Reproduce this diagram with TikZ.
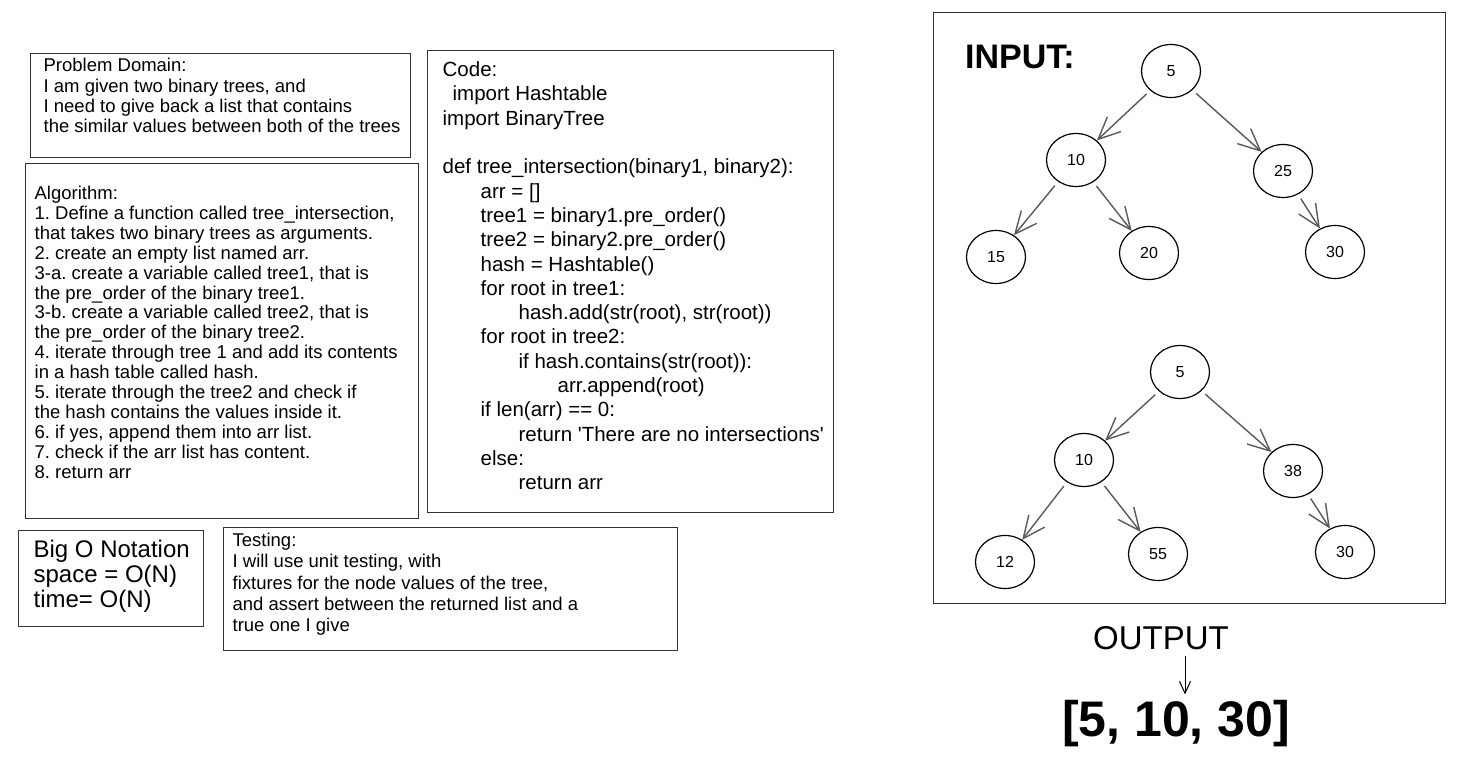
\documentclass[tikz,border=0pt]{standalone}
\usepackage{fontspec}
\setmainfont{Liberation Sans}
\usetikzlibrary{positioning,arrows.meta,shapes.geometric}
\frenchspacing

% text block of fixed size, lines top-left, no wrapping
\newcommand{\notetext}[3]{\parbox[c][#2][t]{#1}{\begin{tabular}[t]{@{}l@{}}#3\end{tabular}}}

\begin{document}
\begin{tikzpicture}[x=1pt, y=-1pt,
  note/.style={draw=black!80, line width=1.3pt, anchor=north west},
  tnode/.style={ellipse, draw, line width=1.2pt, minimum width=59pt, minimum height=53pt, inner sep=0pt, font=\fontsize{16}{16}\selectfont},
  arr/.style={-{Straight Barb[length=22pt, width=20pt]}, line width=1.4pt, draw=black!65, shorten <=5pt}]
\useasboundingbox (0,0) rectangle (1461,759);

% left side: notes
\node[note, inner xsep=13pt, inner ysep=4pt, font=\fontsize{18.5}{20.3}\selectfont] (dom) at (30,53)
  {\notetext{354pt}{96pt}{Problem Domain:\\ I am given two binary trees, and\\ I need to give back a list that contains\\ the similar values between both of the trees}};
\node[note, inner xsep=9pt, inner ysep=22pt, font=\fontsize{18.5}{19.9}\selectfont] (alg) at (25,163)
  {\notetext{375pt}{311pt}{Algorithm:\\
  1. Define a function called tree\_intersection,\\
  that takes two binary trees as arguments.\\
  2. create an empty list named arr.\\
  3-a. create a variable called tree1, that is\\
  the pre\_order of the binary tree1.\\
  3-b. create a variable called tree2, that is\\
  the pre\_order of the binary tree2.\\
  4. iterate through tree 1 and add its contents\\
  in a hash table called hash.\\
  5. iterate through the tree2 and check if\\
  the hash contains the values inside it.\\
  6. if yes, append them into arr list.\\
  7. check if the arr list has content.\\
  8. return arr}};
\node[note, inner xsep=15pt, inner ysep=9pt, font=\fontsize{20.5}{24.3}\selectfont] (code) at (427,50)
  {\notetext{376pt}{444pt}{Code:\\
  \hspace*{10pt}import Hashtable\\
  import BinaryTree\\
  \\
  def tree\_intersection(binary1, binary2):\\
  \hspace*{38pt}arr = []\\
  \hspace*{38pt}tree1 = binary1.pre\_order()\\
  \hspace*{38pt}tree2 = binary2.pre\_order()\\
  \hspace*{38pt}hash = Hashtable()\\
  \hspace*{38pt}for root in tree1:\\
  \hspace*{76pt}hash.add(str(root), str(root))\\
  \hspace*{38pt}for root in tree2:\\
  \hspace*{76pt}if hash.contains(str(root)):\\
  \hspace*{115pt}arr.append(root)\\
  \hspace*{38pt}if len(arr) == 0:\\
  \hspace*{76pt}return \textquotesingle There are no intersections\textquotesingle\\
  \hspace*{38pt}else:\\
  \hspace*{76pt}return arr}};
\node[note, inner xsep=15pt, inner ysep=9pt, font=\fontsize{24}{25}\selectfont] (bigo) at (18,530)
  {\notetext{155pt}{78pt}{Big O Notation\\ space = O(N)\\ time= O(N)}};
\node[note, inner xsep=9pt, inner ysep=4pt, font=\fontsize{18.5}{21.3}\selectfont] (test) at (223,527)
  {\notetext{436pt}{115pt}{Testing:\\
  I will use unit testing, with\\
  fixtures for the node values of the tree,\\
  and assert between the returned list and a\\
  true one I give}};

% right side: input trees
\node[note, minimum width=512pt, minimum height=591pt, inner sep=0pt] (treebox) at (933,12) {};
\node[font=\fontsize{34}{34}\selectfont\bfseries] (inlbl) at (1020,57) {INPUT:};

\node[tnode] (a5) at (1171,71) {5};
\node[tnode] (a10) at (1076,160) {10};
\node[tnode] (a25) at (1283,171) {25};
\node[tnode] (a15) at (996,257) {15};
\node[tnode] (a20) at (1149,253) {20};
\node[tnode] (a30) at (1335,252) {30};
\draw[arr] (a5) -- (a10); \draw[arr] (a5) -- (a25);
\draw[arr] (a10) -- (a15); \draw[arr] (a10) -- (a20);
\draw[arr] (a25) -- (a30);

\node[tnode] (b5) at (1180,372) {5};
\node[tnode] (b10) at (1084,460) {10};
\node[tnode] (b38) at (1293,471) {38};
\node[tnode] (b12) at (1005,562) {12};
\node[tnode] (b55) at (1158,554) {55};
\node[tnode] (b30) at (1345,552) {30};
\draw[arr] (b5) -- (b10); \draw[arr] (b5) -- (b38);
\draw[arr] (b10) -- (b12); \draw[arr] (b10) -- (b55);
\draw[arr] (b38) -- (b30);

% output
\node[inner sep=2pt, font=\fontsize{33}{33}\selectfont] (outlbl) at (1161,638) {OUTPUT};
\node[inner sep=2pt, font=\fontsize{50}{50}\selectfont\bfseries] (res) at (1176,724) {[5, 10, 30]};
\draw[-{Straight Barb[length=12pt, width=11pt]}, line width=1pt, shorten <=4pt, shorten >=4pt]
  ([xshift=24pt]outlbl.south) -- ([xshift=9pt]res.north);
\end{tikzpicture}
\end{document}
